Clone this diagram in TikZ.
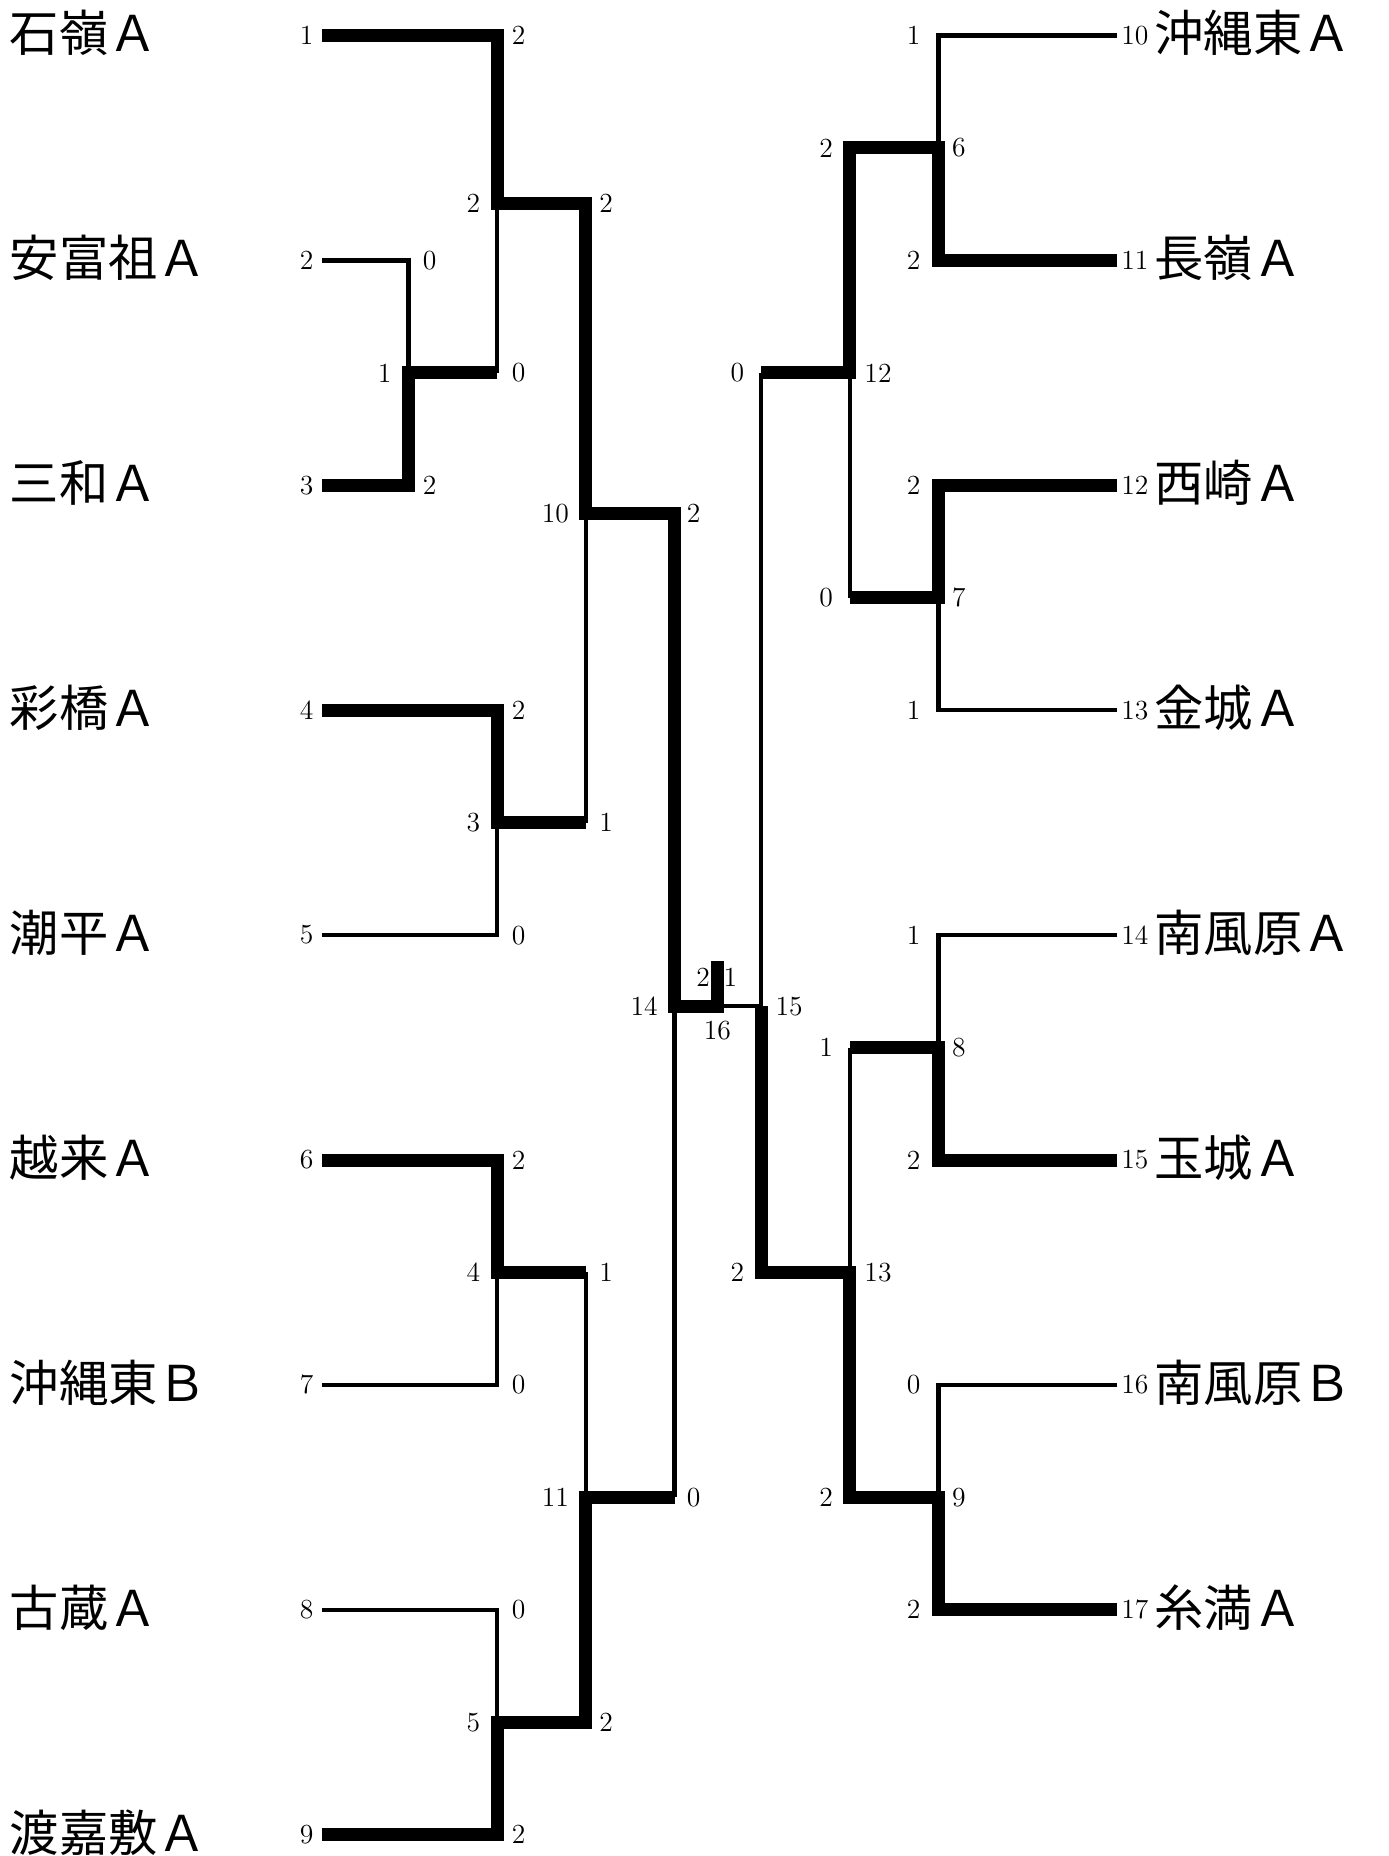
\documentclass[tikz,border=0pt]{standalone}
\usepackage{fontspec}
\newfontfamily\jpfont{Noto Sans CJK JP}
\usetikzlibrary{positioning}

\begin{document}
\begin{tikzpicture}[x=0.6pt,y=-0.6pt,
  team/.style={font=\jpfont\fontsize{25}{25}\selectfont,inner sep=0pt},
  num/.style={font=\fontsize{14}{14}\selectfont,inner sep=0pt},
  won/.style={line width=6.6pt},
  lost/.style={line width=2.3pt}]
  \useasboundingbox (0,0) rectangle (1173,1568);

  % Team names and seed numbers, left block
  \foreach \name [count=\i] in {石嶺Ａ,安富祖Ａ,三和Ａ,彩橋Ａ,潮平Ａ,越来Ａ,沖縄東Ｂ,古蔵Ａ,渡嘉敷Ａ}{
    \node[team,anchor=west] (L\i) at (8,{28+190*(\i-1)}) {\name};
    \node[num,anchor=east] (sL\i) at (265,{30+190*(\i-1)}) {\i};
  }
  % Team names and seed numbers, right block
  \foreach \name [count=\i] in {沖縄東Ａ,長嶺Ａ,西崎Ａ,金城Ａ,南風原Ａ,玉城Ａ,南風原Ｂ,糸満Ａ}{
    \pgfmathtruncatemacro{\s}{\i+9}
    \node[num,anchor=west] (sR\i) at (947,{30+190*(\i-1)}) {\s};
    \node[team,anchor=west] (R\i) at (975,{28+190*(\i-1)}) {\name};
  }

  % Losing lines (thin)
  \draw[lost] (272,220) -| (345,315);
  \draw[lost] (420,172) -- (420,315);
  \draw[lost] (272,790) -| (420,695);
  \draw[lost] (495,434) -- (495,695);
  \draw[lost] (272,1170) -| (420,1075);
  \draw[lost] (272,1360) -| (420,1455);
  \draw[lost] (495,1075) -- (495,1265);
  \draw[lost] (570,850) -- (570,1265);
  \draw[lost] (944,30) -| (793,125);
  \draw[lost] (944,600) -| (793,505);
  \draw[lost] (718,315) -- (718,505);
  \draw[lost] (944,790) -| (793,885);
  \draw[lost] (944,1170) -| (793,1265);
  \draw[lost] (718,885) -- (718,1075);
  \draw[lost] (643,315) -- (643,850) -- (606,850);

  % Winning lines (thick)
  \draw[won] (272,30) -| (420,172) -| (495,434) -| (570,850) -| (606,812);
  \draw[won] (272,410) -| (345,315) -- (420,315);
  \draw[won] (272,600) -| (420,695) -- (495,695);
  \draw[won] (272,980) -| (420,1075) -- (495,1075);
  \draw[won] (272,1550) -| (420,1455) -| (495,1265) -- (570,1265);
  \draw[won] (944,220) -| (793,125) -| (718,315) -- (643,315);
  \draw[won] (944,410) -| (793,505) -- (718,505);
  \draw[won] (944,980) -| (793,885) -- (718,885);
  \draw[won] (944,1360) -| (793,1265) -| (718,1075) -| (643,850);

  % Match numbers
  \node[num,anchor=east] (m1) at (331,315) {1};
  \node[num,anchor=east] (m2) at (406,172) {2};
  \node[num,anchor=east] (m3) at (406,695) {3};
  \node[num,anchor=east] (m4) at (406,1075) {4};
  \node[num,anchor=east] (m5) at (406,1455) {5};
  \node[num,anchor=west] (m6) at (804,125) {6};
  \node[num,anchor=west] (m7) at (804,505) {7};
  \node[num,anchor=west] (m8) at (804,885) {8};
  \node[num,anchor=west] (m9) at (804,1265) {9};
  \node[num,anchor=east] (m10) at (481,434) {10};
  \node[num,anchor=east] (m11) at (481,1265) {11};
  \node[num,anchor=west] (m12) at (730,315) {12};
  \node[num,anchor=west] (m13) at (730,1075) {13};
  \node[num,anchor=east] (m14) at (556,850) {14};
  \node[num,anchor=west] (m15) at (655,850) {15};
  \node[num] (m16) at (606,871) {16};

  % Scores, left block
  \node[num,anchor=west] (g1a) at (357,220) {0};
  \node[num,anchor=west] (g1b) at (357,410) {2};
  \node[num,anchor=west] (g2a) at (432,30) {2};
  \node[num,anchor=west] (g2b) at (432,315) {0};
  \node[num,anchor=west] (g3a) at (432,600) {2};
  \node[num,anchor=west] (g3b) at (432,790) {0};
  \node[num,anchor=west] (g4a) at (432,980) {2};
  \node[num,anchor=west] (g4b) at (432,1170) {0};
  \node[num,anchor=west] (g5a) at (432,1360) {0};
  \node[num,anchor=west] (g5b) at (432,1550) {2};
  \node[num,anchor=west] (g10a) at (506,172) {2};
  \node[num,anchor=west] (g10b) at (506,695) {1};
  \node[num,anchor=west] (g11a) at (506,1075) {1};
  \node[num,anchor=west] (g11b) at (506,1455) {2};
  \node[num,anchor=west] (g14a) at (580,434) {2};
  \node[num,anchor=west] (g14b) at (580,1265) {0};
  % Scores, right block
  \node[num,anchor=east] (g6a) at (778,30) {1};
  \node[num,anchor=east] (g6b) at (778,220) {2};
  \node[num,anchor=east] (g7a) at (778,410) {2};
  \node[num,anchor=east] (g7b) at (778,600) {1};
  \node[num,anchor=east] (g8a) at (778,790) {1};
  \node[num,anchor=east] (g8b) at (778,980) {2};
  \node[num,anchor=east] (g9a) at (778,1170) {0};
  \node[num,anchor=east] (g9b) at (778,1360) {2};
  \node[num,anchor=east] (g12a) at (704,125) {2};
  \node[num,anchor=east] (g12b) at (704,505) {0};
  \node[num,anchor=east] (g13a) at (704,885) {1};
  \node[num,anchor=east] (g13b) at (704,1265) {2};
  \node[num,anchor=east] (g15a) at (629,315) {0};
  \node[num,anchor=east] (g15b) at (629,1075) {2};
  % Final
  \node[num] (g16a) at (594,826) {2};
  \node[num] (g16b) at (617,826) {1};
\end{tikzpicture}
\end{document}
